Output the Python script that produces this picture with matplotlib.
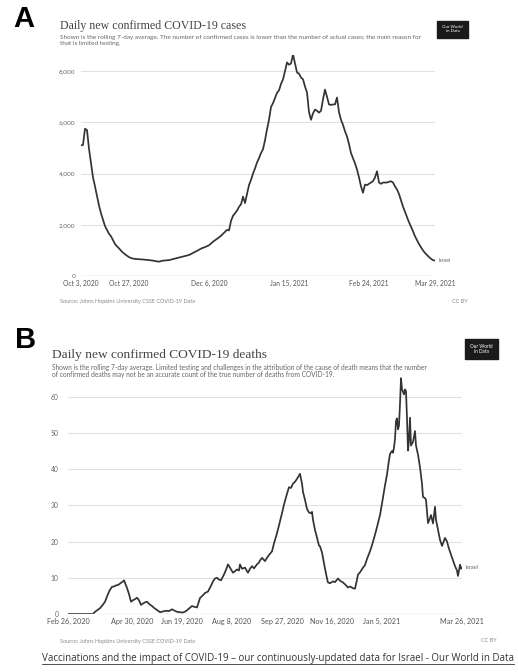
import matplotlib
matplotlib.use('Agg')
import matplotlib.pyplot as plt
from matplotlib.lines import Line2D
from matplotlib.patches import Rectangle
import pandas as pd

plt.rcParams['font.family'] = ['Lato', 'DejaVu Sans']

W, H = 518, 672

# --- panel A: daily new confirmed cases (7-day avg), days after Oct 3, 2020
case_start = '2020-10-03'
case_days = [0, 1, 2, 3, 4, 5, 6, 7, 8, 9, 10, 11, 12, 13, 14, 15, 16, 17, 18, 19,
             20, 21, 22, 23, 24, 25, 26, 28, 30, 33, 36, 38, 39, 41, 44, 47, 51, 54,
             56, 58, 60, 62, 64, 66, 68, 70, 72, 73, 74, 75, 76, 77, 78, 79, 80, 81,
             82, 83, 84, 85, 86, 87, 88, 89, 90, 91, 92, 93, 94, 95, 96, 97, 98, 99,
             100, 101, 102, 103, 104, 105, 106, 107, 108, 109, 110, 111, 112, 113,
             114, 115, 116, 117, 118, 119, 120, 121, 122, 123, 124, 125, 126, 127,
             128, 129, 130, 131, 132, 133, 134, 135, 136, 137, 138, 139, 140, 141,
             142, 143, 144, 145, 146, 147, 148, 149, 150, 151, 152, 153, 154, 155,
             156, 157, 158, 159, 160, 161, 162, 163, 164, 165, 166, 167, 168, 169,
             170, 171, 172, 173, 174, 175, 176, 177]
case_vals = [5100, 5120, 5750, 5700, 4970, 4400, 3850, 3500, 3120, 2750, 2450, 2200,
             1950, 1800, 1650, 1550, 1400, 1250, 1160, 1080, 990, 910, 850, 790, 740,
             700, 680, 660, 650, 630, 600, 570, 560, 600, 620, 680, 760, 820, 900, 980,
             1070, 1130, 1200, 1340, 1450, 1570, 1720, 1800, 1780, 2150, 2350, 2450,
             2550, 2700, 2800, 3100, 2850, 3200, 3550, 3750, 4000, 4200, 4430, 4600,
             4800, 4950, 5300, 5720, 6100, 6600, 6750, 6950, 7150, 7250, 7500, 7680,
             8000, 8340, 8250, 8300, 8650, 8300, 7950, 7900, 7750, 7680, 7400, 7170,
             6400, 6100, 6350, 6500, 6450, 6380, 6450, 6900, 7280, 7000, 6700, 6680,
             6700, 6700, 6970, 6400, 6100, 5900, 5650, 5450, 5150, 4800, 4600, 4400,
             4160, 3850, 3500, 3250, 3570, 3550, 3600, 3650, 3700, 3850, 4090, 3650,
             3600, 3650, 3650, 3650, 3680, 3700, 3650, 3500, 3380, 3200, 2950, 2710,
             2500, 2300, 2100, 1930, 1750, 1550, 1400, 1250, 1120, 1000, 900, 820,
             740, 670, 620, 600]
case_ticks = ['2020-10-03', '2020-10-27', '2020-12-06', '2021-01-15', '2021-02-24', '2021-03-29']
case_tick_labels = ['Oct 3, 2020', 'Oct 27, 2020', 'Dec 6, 2020', 'Jan 15, 2021',
                    'Feb 24, 2021', 'Mar 29, 2021']
case_yticks = [0, 2000, 4000, 6000, 8000]
case_ylabels = ['0', '2,000', '4,000', '6,000', '8,000']

# --- panel B: daily new confirmed deaths (7-day avg), days after Feb 26, 2020
death_start = '2020-02-26'
death_days = [0, 25, 27, 30, 32, 35, 37, 40, 42, 44, 46, 48, 50, 52, 55, 56, 57, 59,
              61, 63, 65, 67, 69, 71, 73, 75, 77, 79, 81, 84, 86, 89, 92, 95, 98, 101,
              104, 106, 109, 112, 115, 118, 121, 124, 126, 129, 132, 135, 137, 140,
              143, 145, 147, 149, 151, 153, 156, 158, 160, 162, 165, 167, 169, 171,
              172, 174, 177, 179, 180, 182, 184, 186, 189, 191, 192, 194, 197, 199,
              201, 204, 206, 209, 211, 214, 216, 219, 221, 223, 225, 227, 229, 231,
              232, 234, 235, 237, 239, 241, 243, 244, 245, 247, 249, 251, 252, 254,
              255, 257, 259, 260, 262, 265, 267, 270, 272, 275, 277, 280, 282, 285,
              287, 289, 290, 292, 295, 297, 299, 302, 304, 307, 309, 312, 314, 317,
              319, 321, 322, 324, 325, 326, 327, 328, 329, 330, 331, 332, 333, 334,
              336, 337, 338, 339, 340, 341, 342, 343, 345, 347, 348, 350, 352, 354,
              355, 357, 358, 360, 362, 363, 365, 367, 368, 370, 372, 374, 375, 377,
              379, 381, 383, 385, 387, 389, 390, 392, 393, 394]
death_vals = [0, 0, 0.6, 1.2, 1.6, 2.6, 3.4, 5.5, 6.7, 7.5, 7.6, 7.9, 8.0, 8.4, 9.0,
              9.3, 8.6, 7.2, 5.5, 3.4, 3.8, 4.1, 4.5, 3.8, 2.5, 2.9, 3.2, 3.4, 2.8, 2.2,
              1.7, 1.1, 0.5, 0.7, 0.9, 0.8, 1.3, 1.0, 0.6, 0.5, 0.4, 0.8, 1.5, 2.2, 2.0,
              1.8, 4.4, 5.2, 5.8, 6.2, 7.8, 9.0, 9.8, 10.0, 9.5, 9.3, 10.9, 12.2, 13.7,
              12.8, 11.4, 11.8, 12.3, 12.0, 13.7, 12.5, 12.8, 11.8, 11.4, 12.5, 13.2,
              12.6, 13.7, 14.2, 14.8, 15.5, 14.6, 15.5, 16.3, 17.3, 19.5, 22.3, 24.5,
              27.8, 30.2, 33.2, 35.0, 34.8, 36.0, 36.5, 37.3, 38.2, 38.7, 36.0, 33.7,
              31.5, 29.0, 28.0, 27.8, 28.2, 26.0, 23.2, 21.0, 18.9, 18.7, 17.0, 15.5,
              12.5, 9.8, 8.7, 8.5, 9.0, 8.8, 9.8, 9.2, 8.7, 8.2, 7.3, 7.6, 7.1, 7.0,
              9.5, 10.9, 11.5, 12.8, 13.5, 15.2, 17.3, 19.0, 21.9, 24.0, 27.3, 30.5,
              35.5, 38.5, 42.5, 44.2, 45.0, 44.5, 46.0, 48.3, 53.3, 54.0, 51.0, 52.0,
              58.0, 65.1, 62.0, 60.6, 62.0, 61.5, 54.0, 45.1, 48.0, 54.2, 46.5, 47.5,
              50.5, 46.5, 44.0, 40.5, 36.0, 32.3, 32.0, 31.5, 25.1, 26.5, 27.3, 25.0,
              29.6, 26.0, 23.2, 20.5, 18.8, 19.5, 21.0, 20.0, 18.0, 16.4, 14.8, 13.2,
              12.0, 10.5, 13.6, 12.5, 12.8]
death_ticks = ['2020-02-26', '2020-04-30', '2020-06-19', '2020-08-08', '2020-09-27',
               '2020-11-16', '2021-01-05', '2021-03-26']
death_tick_labels = ['Feb 26, 2020', 'Apr 30, 2020', 'Jun 19, 2020', 'Aug 8, 2020',
                     'Sep 27, 2020', 'Nov 16, 2020', 'Jan 5, 2021', 'Mar 26, 2021']
death_yticks = [0, 10, 20, 30, 40, 50, 60]


def px_axes(fig, x0, y0, x1, y1):
    # pixel box (top-left origin) -> figure axes
    return fig.add_axes([x0 / W, 1 - y1 / H, (x1 - x0) / W, (y1 - y0) / H])


def ft(fig, x, y, s, **kw):
    return fig.text(x / W, 1 - y / H, s, **kw)


def owid_panel(fig, box, start, days, vals, xticks, xlabels, yticks, ylabels,
               ytop, ypad, fs):
    ax = px_axes(fig, *box)
    dates = pd.Timestamp(start) + pd.to_timedelta(days, unit='D')
    ax.plot(dates, vals, color='#333333', lw=1.25)
    ax.set_xlim(dates[0], dates[-1])
    ax.set_ylim(0, ytop)
    ax.set_yticks(yticks)
    ax.set_yticklabels(ylabels)
    ax.set_xticks(pd.to_datetime(xticks))
    ax.set_xticklabels(xlabels)
    ax.grid(axis='y', color='#e2e2e2', lw=0.8)
    ax.axhline(0, color='#cccccc', lw=0.9)
    for s in ax.spines.values():
        s.set_visible(False)
    ax.tick_params(axis='y', length=0, pad=ypad, labelsize=fs, labelcolor='#666666')
    ax.tick_params(axis='x', length=0, pad=3, labelsize=fs + 0.3, labelcolor='#555555')
    ax.annotate('Israel', (dates[-1], vals[-1]), xytext=(2.5, 0),
                textcoords='offset points', va='center', fontsize=fs - 0.8,
                color='#666666', annotation_clip=False)
    ax.set_facecolor('none')
    return ax


def logo(fig, x0, y0, x1, y1, fs):
    fig.patches.append(Rectangle((x0 / W, 1 - y1 / H), (x1 - x0) / W, (y1 - y0) / H,
                                 transform=fig.transFigure, color='#1a1a1a'))
    ft(fig, (x0 + x1) / 2, (y0 + y1) / 2, 'Our World\nin Data', ha='center',
       va='center', fontsize=fs, color='white', linespacing=1.0)


fig = plt.figure(figsize=(W / 100, H / 100), dpi=100, facecolor='white')

# panel A
ft(fig, 24, 19, 'A', ha='center', va='center', fontsize=21, fontweight='bold',
   family='Liberation Sans', color='black')
ft(fig, 60, 26, 'Daily new confirmed COVID-19 cases', ha='left', va='center',
   fontsize=8.6, family='Liberation Serif', color='#444444')
ft(fig, 60, 40.5, 'Shown is the rolling 7-day average. The number of confirmed cases is '
   'lower than the number of actual cases; the main reason for\nthat is limited testing.',
   ha='left', va='center', fontsize=4.6, color='#666666', linespacing=1.1)
logo(fig, 437, 21, 468, 38, 3.2)
owid_panel(fig, (81, 55, 435, 276), case_start, case_days, case_vals, case_ticks,
           case_tick_labels, case_yticks, case_ylabels, 8630, 4, 4.6)
ft(fig, 60, 301, 'Source: Johns Hopkins University CSSE COVID-19 Data', ha='left',
   va='center', fontsize=4.0, color='#888888')
ft(fig, 468, 301, 'CC BY', ha='right', va='center', fontsize=4.0, color='#888888')

# panel B
ft(fig, 26, 340, 'B', ha='center', va='center', fontsize=21, fontweight='bold',
   family='Liberation Sans', color='black')
ft(fig, 52, 355, 'Daily new confirmed COVID-19 deaths', ha='left', va='center',
   fontsize=9.6, family='Liberation Serif', color='#444444')
ft(fig, 52, 371, 'Shown is the rolling 7-day average. Limited testing and challenges in '
   'the attribution of the cause of death means that the number\nof confirmed deaths may '
   'not be an accurate count of the true number of deaths from COVID-19.',
   ha='left', va='center', fontsize=4.8, color='#666666', linespacing=1.15)
logo(fig, 465, 339, 498, 359, 3.4)
owid_panel(fig, (68, 376, 462, 614), death_start, death_days, death_vals, death_ticks,
           death_tick_labels, death_yticks, [str(v) for v in death_yticks], 65.7, 7, 4.9)
ft(fig, 60, 641, 'Source: Johns Hopkins University CSSE COVID-19 Data', ha='left',
   va='center', fontsize=4.0, color='#888888')
ft(fig, 497, 641, 'CC BY', ha='right', va='center', fontsize=4.0, color='#888888')

# caption with underline
cap = ft(fig, 278, 659, 'Vaccinations and the impact of COVID-19 \u2013 our continuously-'
         'updated data for Israel - Our World in Data', ha='center', va='center',
         fontsize=7, family='Open Sans', color='#333333')
fig.canvas.draw()
bb = cap.get_window_extent()
fig.lines.append(Line2D([bb.x0 / W, bb.x1 / W], [(bb.y0 + 0.3) / H] * 2,
                        transform=fig.transFigure, color='#333333', lw=0.6))

fig.savefig('out.png', dpi=100, facecolor='white')
